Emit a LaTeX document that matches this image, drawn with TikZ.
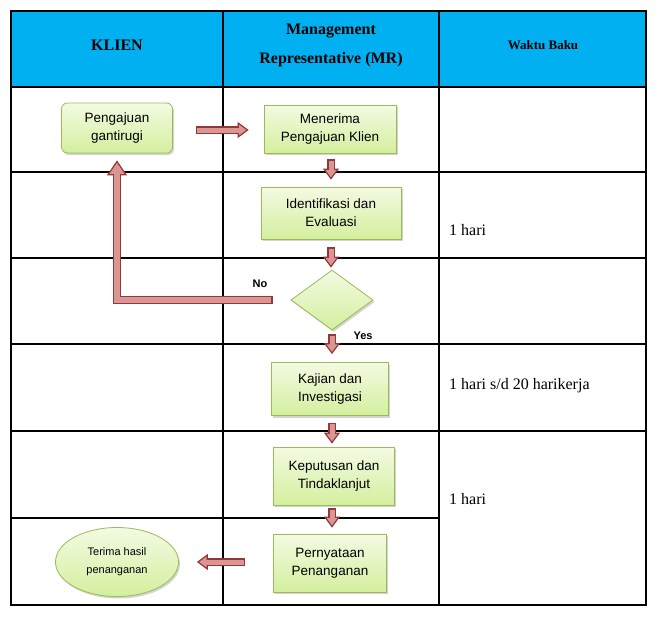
\documentclass[tikz,border=0pt]{standalone}
\usepackage{fontspec}
\setmainfont{Liberation Serif}
\setsansfont{Liberation Sans}
\usetikzlibrary{arrows.meta,shapes.geometric,shadows,calc}
\definecolor{headblue}{RGB}{0,176,240}
\definecolor{boxline}{RGB}{155,187,89}
\definecolor{boxtop}{RGB}{243,250,226}
\definecolor{boxbot}{RGB}{212,239,158}
\definecolor{arrowdark}{RGB}{149,55,53}
\definecolor{arrowpink}{RGB}{217,150,148}
\begin{document}
\begin{tikzpicture}[x=1pt, y=-1pt,
    grid/.style={line width=1.1pt},
    head/.style={font=\bfseries\fontsize{16}{29}\selectfont, align=center},
    proc/.style={draw=boxline, line width=0.8pt, top color=boxtop, bottom color=boxbot,
        align=center, inner sep=0pt, font=\sffamily\fontsize{13.5}{18}\selectfont,
        drop shadow={shadow xshift=1.5pt, shadow yshift=-2pt, opacity=0.35}},
    waktu/.style={anchor=base west, inner sep=0pt, font=\fontsize{16}{19}\selectfont},
    lbl/.style={font=\sffamily\bfseries\fontsize{11}{13}\selectfont},
    flow/.style={draw=arrowdark, line width=7.5pt,
        -{Triangle[width=16pt, length=11pt, fill=arrowpink, line width=1.2pt]},
        postaction={draw=arrowpink, line width=5pt, arrows=-, shorten >=9pt, shorten <=1.2pt}},
    bigflow/.style={draw=arrowdark, line width=8.5pt,
        -{Triangle[width=20pt, length=15pt, fill=arrowpink, line width=1.2pt]},
        postaction={draw=arrowpink, line width=6pt, arrows=-, shorten >=13pt, shorten <=1.2pt}}]
\useasboundingbox (0,0) rectangle (658,616);

% table
\fill[headblue] (11,11) rectangle (646,87);
\draw[grid] (11,11) rectangle (646,605);
\foreach \yy in {87,172,258,344,431}
    \draw[grid] (11,\yy) -- (646,\yy);
\draw[grid] (11,518) -- (439,518);
\draw[grid] (223,11) -- (223,605);
\draw[grid] (439,11) -- (439,605);

% header
\node[head] (klien) at (117,45) {KLIEN};
\node[head] (mr) at (331,45) {Management\\Representative (MR)};
\node[head, font=\bfseries\fontsize{13}{16}\selectfont] (baku) at (543,45) {Waktu Baku};

% steps
\node[proc, rounded corners=6pt, minimum width=111pt, minimum height=50pt] (aju) at (117,128) {Pengajuan\\gantirugi};
\node[proc, minimum width=132pt, minimum height=48pt] (terima) at (330,129) {Menerima\\Pengajuan Klien};
\node[proc, minimum width=140pt, minimum height=52pt] (ident) at (331,213) {Identifikasi dan\\Evaluasi};
\node[proc, diamond, minimum width=82pt, minimum height=60pt] (cek) at (332,300) {};
\node[proc, minimum width=117pt, minimum height=53pt] (kaji) at (330,389) {Kajian dan\\Investigasi};
\node[proc, minimum width=121pt, minimum height=58pt] (putus) at (334,476) {Keputusan dan\\Tindaklanjut};
\node[proc, minimum width=113pt, minimum height=58pt] (nyata) at (330,563) {Pernyataan\\Penanganan};
\node[proc, ellipse, minimum width=123pt, minimum height=69pt,
    font=\sffamily\fontsize{11}{18}\selectfont] (hasil) at (117,562) {Terima hasil\\penanganan};

\node[lbl] (no) at (260,284) {No};
\node[lbl] (yes) at (363,336) {Yes};

% waktu baku
\node[waktu] (w1) at (449,235) {1 hari};
\node[waktu] (w2) at (449,389) {1 hari s/d 20 harikerja};
\node[waktu] (w3) at (449,504) {1 hari};

% arrows
\draw[flow] ($(aju.east)+(23,2)$) -- ($(aju.east -| terima.west)+(-15,2)$);
\draw[flow] ($(terima.south)+(1,6)$) -- ($(terima.south |- ident.north)+(1,-7)$);
\draw[flow] ($(ident.south)+(0,8)$) -- ($(ident.south |- cek.north)+(0,-2)$);
\draw[flow] ($(cek.south)+(0,4)$) -- ($(cek.south |- kaji.north)+(0,-8)$);
\draw[flow] ($(kaji.south)+(2,7)$) -- ($(kaji.south |- putus.north)+(2,-3)$);
\draw[flow] ($(putus.south)+(-2,3)$) -- ($(putus.south |- nyata.north)+(-2,-6)$);
\draw[flow] ($(nyata.west)+(-28,-1)$) -- ($(nyata.west -| hasil.east)+(18,-1)$);
\draw[bigflow] ($(cek.west)+(-18,0)$) -| ($(aju.south)+(0,7)$);
\end{tikzpicture}
\end{document}
